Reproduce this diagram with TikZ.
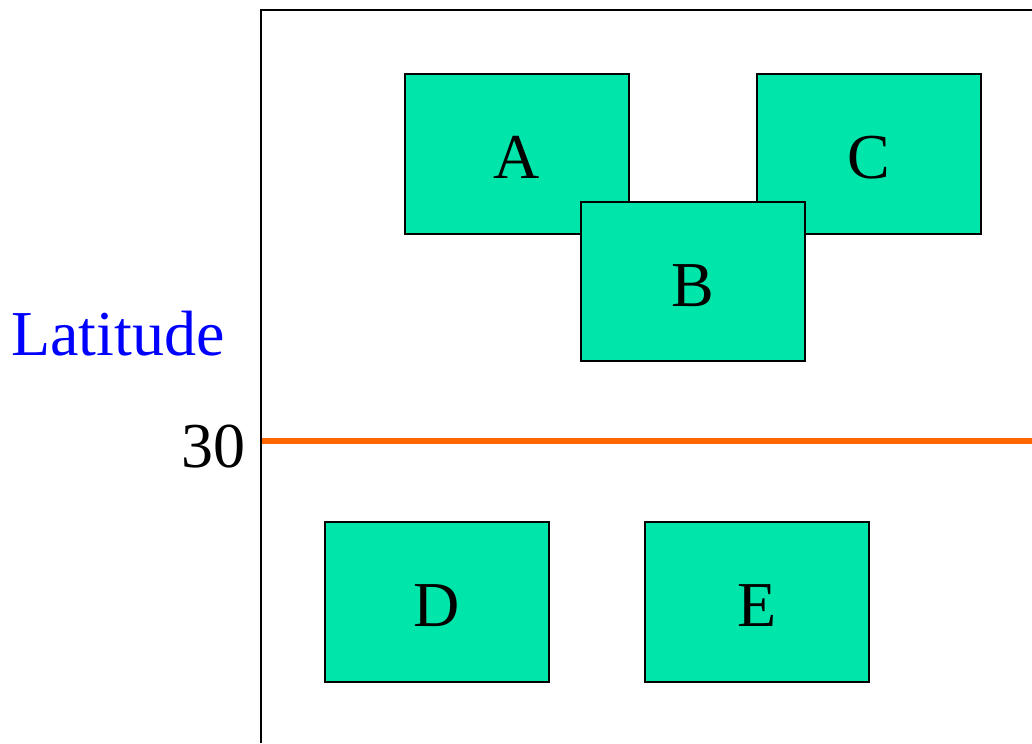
\documentclass[tikz,border=0pt]{standalone}
\usepackage{fontspec}
\setmainfont{Liberation Serif}
\begin{document}
\begin{tikzpicture}[x=0.75pt,y=-0.75pt,
  region/.style={draw=black,line width=1pt,fill=boxgreen},
  lbl/.style={anchor=base,inner sep=0pt,font=\fontsize{48}{52}\selectfont}]
\definecolor{boxgreen}{HTML}{00E5AA}
\definecolor{boundary}{HTML}{FF6600}
\useasboundingbox (0,0) rectangle (1032,743);
% axes frame
\coordinate (top) at (261,10);
\coordinate (bot) at (261,743);
\coordinate (topright) at (1032,10);
\draw[line width=1.6pt] (bot) -- (top) -- (topright);
% 30-degree boundary
\coordinate (b0) at (262,441);
\coordinate (b1) at (1032,441);
\draw[boundary,line width=4.8pt] (b0) -- (b1);
% regions
\path[region] (405,74) rectangle (629,234) node[pos=.5] (A) {};
\path[region] (757,74) rectangle (981,234) node[pos=.5] (C) {};
\path[region] (581,202) rectangle (805,361) node[pos=.5] (B) {};
\path[region] (325,522) rectangle (549,682) node[pos=.5] (D) {};
\path[region] (645,522) rectangle (869,682) node[pos=.5] (E) {};
\node[lbl] (tA) at (517,178) {A};
\node[lbl] (tC) at (869,178) {C};
\node[lbl] (tB) at (693,306) {B};
\node[lbl] (tD) at (437,626) {D};
\node[lbl] (tE) at (757,626) {E};
% axis labels
\node[lbl,text=blue] (lat) at (118,355) {Latitude};
\node[lbl,anchor=base east] (thirty) at (246,467) {30};
\end{tikzpicture}
\end{document}
